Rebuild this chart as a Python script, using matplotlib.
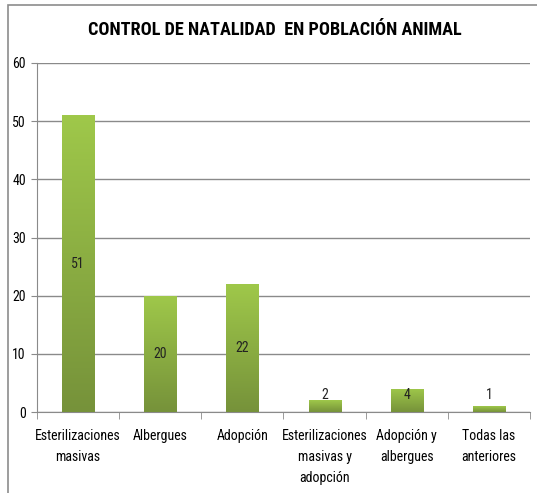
import numpy as np
import matplotlib
matplotlib.use("Agg")
import matplotlib.pyplot as plt
from matplotlib.patches import Rectangle
from matplotlib import font_manager

# Data
categories = ["Esterilizaciones\nmasivas", "Albergues", "Adopción",
              "Esterilizaciones\nmasivas y\nadopción", "Adopción y\nalbergues",
              "Todas las\nanteriores"]
values = [51, 20, 22, 2, 4, 1]
yticks = [0, 10, 20, 30, 40, 50, 60]
title = "CONTROL DE NATALIDAD  EN POBLACIÓN ANIMAL"

installed = {f.name for f in font_manager.fontManager.ttflist}
narrow = [n for n in ["Liberation Sans Narrow", "Roboto Condensed", "Open Sans Condensed",
                      "DejaVu Sans Condensed"] if n in installed]
family = narrow[0] if narrow else "Liberation Sans"
plt.rcParams["font.family"] = [family, "DejaVu Sans"]

fig = plt.figure(figsize=(5.37, 4.93), dpi=100)
ax = fig.add_axes([37 / 537, 1 - 412 / 493, 493 / 537, 349 / 493])
renderer = fig.canvas.get_renderer()


def fit_size(txt, target_px, weight="normal"):
    t = fig.text(0, 0, txt, fontsize=10, fontweight=weight)
    w = t.get_window_extent(renderer).width
    t.remove()
    return 10 * target_px / w


lab_size = 10
title_size = fit_size(title, 372, "bold")

# chart border
fig.add_artist(Rectangle((8 / 537, -0.05), 1.2, 1 - 5 / 493 + 0.05,
                         transform=fig.transFigure, fill=False,
                         edgecolor="#8c8c8c", lw=1.2))

x = np.arange(len(values))
bars = ax.bar(x, values, width=0.39, color="none", edgecolor="none", zorder=3)

# vertical green gradient for each bar
grad = np.linspace(0, 1, 256).reshape(-1, 1)
cmap = matplotlib.colors.LinearSegmentedColormap.from_list("g", ["#76923a", "#9fc84a"])
for b in bars:
    x0, y0 = b.get_x(), b.get_y()
    w, h = b.get_width(), b.get_height()
    im = ax.imshow(grad, extent=[x0, x0 + w, y0, y0 + h], origin="lower",
                   cmap=cmap, aspect="auto", zorder=3)
    im.set_clip_path(b)

for i, v in enumerate(values):
    ax.text(i, max(v / 2, 2.9), str(v), ha="center", va="center",
            fontsize=lab_size, color="#222222", zorder=4)

ax.set_xlim(-0.5, len(values) - 0.5)
ax.set_ylim(0, 60)
ax.set_yticks(yticks)
ax.set_yticklabels([str(t) for t in yticks], fontsize=lab_size)
ax.yaxis.grid(True, color="#8a8a8a", lw=1)
ax.set_axisbelow(True)

ax.set_xticks(x)
ax.set_xticklabels(categories, fontsize=lab_size, linespacing=1.65, va="top")
ax.tick_params(axis="x", length=0, pad=12)
ax.set_xticks(np.arange(-0.5, len(values)), minor=True)
ax.tick_params(axis="x", which="minor", length=5, color="#8a8a8a")
ax.tick_params(axis="y", length=4, color="#8a8a8a", pad=4)

for s in ["top", "right"]:
    ax.spines[s].set_visible(False)
ax.spines["left"].set_color("#8a8a8a")
ax.spines["bottom"].set_color("#8a8a8a")

fig.text(275 / 537, 1 - 30 / 493, title, ha="center", va="center",
         fontsize=title_size, fontweight="bold")

fig.savefig("out.png", dpi=100)
